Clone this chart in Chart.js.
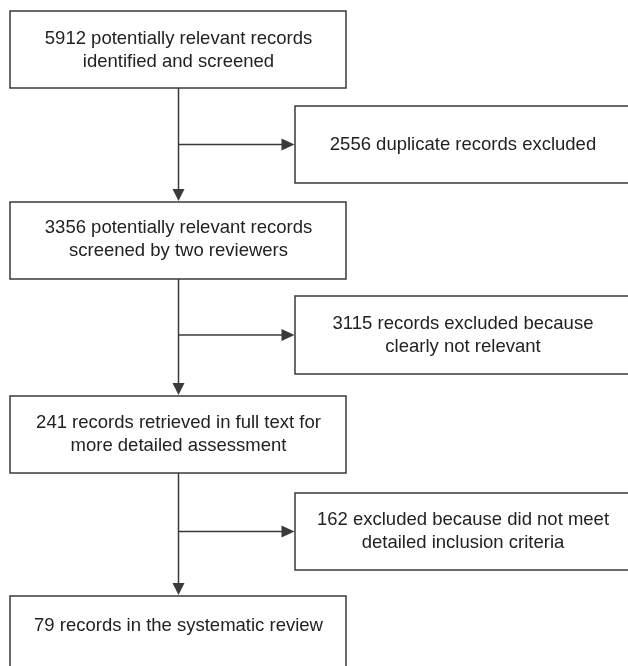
<!DOCTYPE html>
<html><head><meta charset="utf-8">
<script src="https://cdn.jsdelivr.net/npm/chart.js@4.4.1/dist/chart.umd.min.js"></script>
<style>html,body{margin:0;padding:0;background:#fff}canvas{display:block}</style>
</head><body>
<div style="width:628px;height:666px"><canvas id="c" width="628" height="666"></canvas></div>
<script>
// ---- data ----
const stageCounts = [5912, 3356, 241, 79];
const stageLabels = [
  ["5912 potentially relevant records", "identified and screened"],
  ["3356 potentially relevant records", "screened by two reviewers"],
  ["241 records retrieved in full text for", "more detailed assessment"],
  ["79 records in the systematic review"]
];
const excludedCounts = [2556, 3115, 162];
const excludedLabels = [
  ["2556 duplicate records excluded"],
  ["3115 records excluded because", "clearly not relevant"],
  ["162 excluded because did not meet", "detailed inclusion criteria"]
];

// ---- layout (units of hidden linear scales) ----
const mainX = [10, 346];
const mainCX = 178.5;
const mainY = [[11, 88], [202, 279], [396, 473], [596, 720]];
const mainTextY = [50, 239, 434, 626];
const sideX = [295, 631];
const sideY = [[106, 183], [296, 374], [493, 570]];
const sideTextCX = 463;
const lineGap = 23;

const ink = '#3a3a3a';
const textInk = '#222';
const FONT = '18.5px "Liberation Sans", Arial, sans-serif';

function drawLabel(ctx, lines, cx, cy) {
  ctx.fillStyle = textInk;
  ctx.font = FONT;
  ctx.textAlign = 'center';
  ctx.textBaseline = 'middle';
  const n = lines.length;
  lines.forEach((t, i) => {
    ctx.fillText(t, cx, cy + (i - (n - 1) / 2) * lineGap);
  });
}

const flowPlugin = {
  id: 'flow',
  afterDraw(chart) {
    const ctx = chart.ctx, X = chart.scales.x, Y = chart.scales.y;
    const px = v => X.getPixelForValue(v), py = v => Y.getPixelForValue(v);
    ctx.save();
    ctx.strokeStyle = ink;
    ctx.fillStyle = ink;
    ctx.lineWidth = 1.5;
    // main boxes
    stageLabels.forEach((lines, i) => {
      const x0 = px(mainX[0]), x1 = px(mainX[1]), y0 = py(mainY[i][0]), y1 = py(mainY[i][1]);
      ctx.strokeStyle = ink;
      ctx.lineWidth = 1.5;
      ctx.strokeRect(x0, y0, x1 - x0, y1 - y0);
      drawLabel(ctx, lines, px(mainCX), py(mainTextY[i]));
    });
    // side boxes
    excludedLabels.forEach((lines, i) => {
      const x0 = px(sideX[0]), x1 = px(sideX[1]), y0 = py(sideY[i][0]), y1 = py(sideY[i][1]);
      ctx.strokeStyle = ink;
      ctx.lineWidth = 1.5;
      ctx.strokeRect(x0, y0, x1 - x0, y1 - y0);
      drawLabel(ctx, lines, px(sideTextCX), (y0 + y1) / 2);
    });
    // arrows
    ctx.strokeStyle = ink;
    ctx.fillStyle = ink;
    ctx.lineWidth = 1.5;
    for (let i = 0; i < stageLabels.length - 1; i++) {
      const cx = px(mainCX);
      const yStart = py(mainY[i][1]);
      const yEnd = py(mainY[i + 1][0]) - 1;
      ctx.beginPath();
      ctx.moveTo(cx, yStart);
      ctx.lineTo(cx, yEnd - 10);
      ctx.stroke();
      ctx.beginPath();
      ctx.moveTo(cx - 6, yEnd - 12);
      ctx.lineTo(cx + 6, yEnd - 12);
      ctx.lineTo(cx, yEnd);
      ctx.closePath();
      ctx.fill();
      // side arrow
      const sy = (py(sideY[i][0]) + py(sideY[i][1])) / 2;
      const sx = px(sideX[0]) - 0.5;
      ctx.beginPath();
      ctx.moveTo(cx, sy);
      ctx.lineTo(sx - 10, sy);
      ctx.stroke();
      ctx.beginPath();
      ctx.moveTo(sx - 13, sy - 6);
      ctx.lineTo(sx - 13, sy + 6);
      ctx.lineTo(sx, sy);
      ctx.closePath();
      ctx.fill();
    }
    ctx.restore();
  }
};

const points = stageCounts.map((c, i) => ({x: mainCX, y: (mainY[i][0] + Math.min(mainY[i][1], 666)) / 2, c}))
  .concat(excludedCounts.map((c, i) => ({x: sideTextCX, y: (sideY[i][0] + sideY[i][1]) / 2, c})));

new Chart(document.getElementById('c'), {
  type: 'scatter',
  data: { datasets: [{ data: points, pointRadius: 0, pointHoverRadius: 0 }] },
  options: {
    responsive: false,
    devicePixelRatio: 1,
    animation: false,
    events: [],
    layout: { padding: 0 },
    plugins: { legend: { display: false }, tooltip: { enabled: false } },
    scales: {
      x: { type: 'linear', min: 0, max: 628, display: false },
      y: { type: 'linear', min: 0, max: 666, reverse: true, display: false }
    }
  },
  plugins: [flowPlugin]
});
</script>
</body></html>
